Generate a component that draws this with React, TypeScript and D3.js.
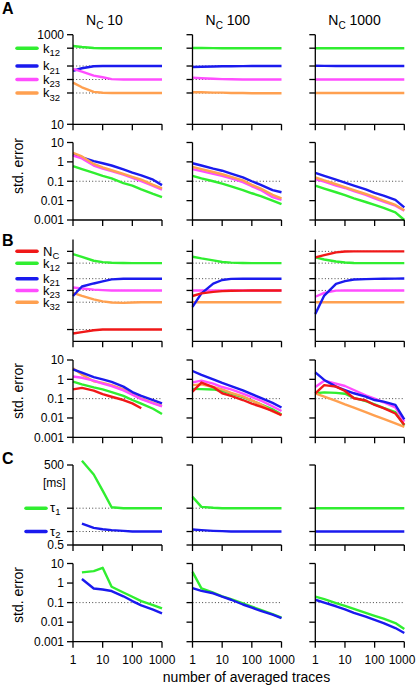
import React from 'react';
import * as d3 from 'd3';

// ---------- data ----------
const ncLabels = ['10', '100', '1000'];
const ncValues = [10, 100, 1000];
const xAll = [1, 2, 5, 10, 20, 50, 100, 200, 500, 1000];
const xFrom2 = [2, 5, 10, 20, 50, 100, 200, 500, 1000];
const xTo200 = [1, 2, 5, 10, 20, 50, 100, 200];
const xTickValues = [1, 10, 100, 1000];
const xTickLabels = ['1', '10', '100', '1000'];
const kNames = ['12', '21', '23', '32'];
const kTrue = [500, 200, 100, 50];
const tauNames = ['1', '2'];
const tauTrue = [12, 1.6];
const seTicks = [10, 1, 0.1, 0.01, 0.001];
const seTickLabels = ['10', '1', '0.1', '0.01', '0.001'];

// Panel A: estimates
const aK12 = [
  [560, 530, 505, 500, 500, 500, 500, 500, 500, 500],
  [505, 503, 501, 500, 500, 499, 498, 497, 497, 497],
  [500, 500, 500, 500, 500, 500, 500, 500, 500, 500],
];
const aK21 = [
  [157, 178, 198, 200, 200, 200, 200, 200, 200, 200],
  [190, 192, 195, 197, 198, 199, 200, 200, 200, 200],
  [202, 201, 200, 200, 200, 200, 200, 200, 200, 200],
];
const aK23 = [
  [172, 150, 122, 112, 102, 100, 100, 100, 100, 100],
  [110, 107, 104, 102, 101, 100, 100, 100, 100, 100],
  [100, 100, 100, 100, 100, 100, 100, 100, 100, 100],
];
const aK32 = [
  [85, 67, 53, 50.5, 50, 50, 50, 50, 50, 50],
  [52, 52, 51, 51, 50, 50, 49.5, 49.5, 49.5, 49.5],
  [50, 50, 50, 50, 50, 50, 50, 50, 50, 50],
];
// Panel A: std. errors
const aSeK12 = [
  [0.6, 0.42, 0.27, 0.19, 0.14, 0.08, 0.06, 0.038, 0.022, 0.015],
  [0.19, 0.14, 0.1, 0.075, 0.055, 0.035, 0.024, 0.017, 0.01, 0.0066],
  [0.06, 0.042, 0.027, 0.019, 0.013, 0.0085, 0.006, 0.0042, 0.0025, 0.001],
];
const aSeK21 = [
  [2.4, 1.7, 1.1, 0.85, 0.65, 0.41, 0.28, 0.2, 0.12, 0.063],
  [0.85, 0.65, 0.45, 0.35, 0.25, 0.16, 0.1, 0.065, 0.035, 0.027],
  [0.27, 0.19, 0.12, 0.085, 0.06, 0.038, 0.025, 0.018, 0.011, 0.0045],
];
const aSeK23 = [
  [2.1, 1.5, 0.65, 0.45, 0.33, 0.22, 0.15, 0.1, 0.058, 0.037],
  [0.42, 0.33, 0.24, 0.19, 0.14, 0.09, 0.055, 0.035, 0.015, 0.011],
  [0.13, 0.095, 0.06, 0.045, 0.031, 0.02, 0.013, 0.009, 0.0055, 0.003],
];
const aSeK32 = [
  [2.9, 1.9, 0.78, 0.52, 0.37, 0.24, 0.17, 0.12, 0.065, 0.043],
  [0.55, 0.42, 0.3, 0.23, 0.17, 0.11, 0.065, 0.042, 0.02, 0.013],
  [0.16, 0.11, 0.07, 0.05, 0.035, 0.022, 0.015, 0.01, 0.006, 0.0032],
];

// Panel B: estimates
const bNc = [
  [7.9, 8.6, 9.6, 10, 10, 10, 10, 10, 10, 10],
  [72, 84, 92, 96, 98, 99, 100, 100, 100, 100],
  [700, 800, 940, 990, 1000, 1000, 1000, 1000, 1000, 1000],
];
const bK12 = [
  [850, 720, 575, 530, 510, 505, 500, 500, 500, 500],
  [730, 660, 590, 535, 515, 505, 500, 500, 500, 500],
  [700, 620, 550, 520, 505, 500, 500, 500, 500, 500],
];
const bK21 = [
  [72, 126, 151, 170, 192, 200, 200, 200, 200, 200],
  [38, 84, 150, 185, 198, 200, 200, 200, 200, 200],
  [25, 74, 148, 173, 190, 195, 198, 200, 201, 202],
];
const bK23 = [
  [119, 112, 105, 102, 100, 100, 100, 100, 100, 100],
  [100, 100, 100, 100, 100, 100, 100, 100, 100, 100],
  [69, 87, 99, 100, 100, 100, 100, 100, 100, 100],
];
const bK32 = [
  [87, 73, 59, 52.5, 49, 48, 49, 50, 50, 50],
  [50, 50, 50, 50, 50, 50, 50, 50, 50, 50],
  [50, 50, 50, 50, 50, 50, 50, 50, 50, 50],
];
// Panel B: std. errors
const bSeNc = [
  [0.3, 0.36, 0.26, 0.17, 0.125, 0.085, 0.057, 0.032],
  [0.23, 0.68, 0.4, 0.19, 0.14, 0.085, 0.055, 0.039, 0.023, 0.014],
  [0.19, 0.5, 0.42, 0.25, 0.105, 0.08, 0.047, 0.032, 0.017, 0.0044],
];
const bSeK12 = [
  [0.76, 0.55, 0.38, 0.3, 0.22, 0.14, 0.085, 0.055, 0.03, 0.016],
  [0.32, 0.31, 0.3, 0.25, 0.18, 0.12, 0.08, 0.05, 0.028, 0.015],
  [0.19, 0.21, 0.2, 0.18, 0.11, 0.075, 0.05, 0.033, 0.02, 0.004],
];
const bSeK21 = [
  [3.3, 2.2, 1.3, 1.0, 0.74, 0.42, 0.22, 0.14, 0.085, 0.057],
  [2.7, 1.7, 1.0, 0.65, 0.45, 0.27, 0.17, 0.11, 0.06, 0.035],
  [2.3, 0.93, 0.42, 0.28, 0.19, 0.126, 0.085, 0.07, 0.048, 0.0085],
];
const bSeK23 = [
  [1.4, 1.2, 0.85, 0.6, 0.45, 0.27, 0.16, 0.095, 0.057, 0.04],
  [0.7, 0.85, 0.6, 0.4, 0.3, 0.18, 0.12, 0.08, 0.04, 0.023],
  [0.4, 0.85, 0.6, 0.45, 0.28, 0.15, 0.1, 0.065, 0.035, 0.0065],
];
const bSeK32 = [
  [3.7, 1.75, 0.8, 0.65, 0.5, 0.3, 0.17, 0.1, 0.06, 0.042],
  [0.5, 0.55, 0.4, 0.3, 0.2, 0.13, 0.08, 0.05, 0.022, 0.014],
  [0.19, 0.128, 0.076, 0.05, 0.034, 0.02, 0.0134, 0.009, 0.0052, 0.0035],
];

// Panel C: estimates [ms]
const cTau1 = [
  [720, 220, 55, 13, 12, 12, 12, 12, 12],
  [32, 13.5, 12.5, 12, 12, 12, 12, 12, 12, 12],
  [12, 12, 12, 12, 12, 12, 12, 12, 12, 12],
];
const cTau2 = [
  [3.2, 2.2, 1.95, 1.8, 1.7, 1.6, 1.6, 1.6, 1.6],
  [1.9, 1.8, 1.7, 1.65, 1.6, 1.6, 1.6, 1.6, 1.6, 1.6],
  [1.6, 1.6, 1.6, 1.6, 1.6, 1.6, 1.6, 1.6, 1.6, 1.6],
];
// Panel C: std. errors
const cSeTau1 = [
  [3.5, 4.1, 6, 0.65, 0.33, 0.2, 0.12, 0.075, 0.05],
  [3.7, 0.53, 0.32, 0.21, 0.15, 0.09, 0.062, 0.043, 0.026, 0.017],
  [0.2, 0.15, 0.095, 0.068, 0.048, 0.03, 0.021, 0.015, 0.009, 0.0045],
];
const cSeTau2 = [
  [1.6, 0.53, 0.47, 0.39, 0.21, 0.12, 0.072, 0.044, 0.028],
  [0.55, 0.4, 0.3, 0.2, 0.14, 0.08, 0.055, 0.038, 0.024, 0.016],
  [0.14, 0.1, 0.065, 0.045, 0.03, 0.019, 0.013, 0.009, 0.005, 0.0028],
];

// ---------- styles / layout ----------
const FONT = '"Liberation Sans", Arial, Helvetica, sans-serif';
const GREEN = '#30ee30';
const BLUE = '#1a1aee';
const MAGENTA = '#ff4dff';
const ORANGE = '#ffa050';
const RED = '#f01818';
const COLS = [73, 192.5, 315.3];
const PW = 89;

type Series = { color: string; data: number[][]; xs: number[][] };
type Panel = {
  top: number;
  bottom: number;
  domain: [number, number];
  ticks: (c: number) => number[];
  labels: { v: number; t: string }[];
  refs: (c: number) => number[];
  series: Series[];
};

const same = (a: number[]) => [a, a, a];

const kTicks = () => [1000, ...kTrue, 10];
const seLabels = seTicks.map((v, i) => ({ v, t: seTickLabels[i] }));

const panels: Panel[] = [
  {
    top: 34.7, bottom: 124.3, domain: [10, 1000],
    ticks: kTicks,
    labels: [{ v: 1000, t: '1000' }, { v: 10, t: '10' }],
    refs: () => kTrue,
    series: [
      { color: GREEN, data: aK12, xs: same(xAll) },
      { color: BLUE, data: aK21, xs: same(xAll) },
      { color: MAGENTA, data: aK23, xs: same(xAll) },
      { color: ORANGE, data: aK32, xs: same(xAll) },
    ],
  },
  {
    top: 142.5, bottom: 220, domain: [0.001, 10],
    ticks: () => seTicks, labels: seLabels, refs: () => [0.1],
    series: [
      { color: GREEN, data: aSeK12, xs: same(xAll) },
      { color: BLUE, data: aSeK21, xs: same(xAll) },
      { color: MAGENTA, data: aSeK23, xs: same(xAll) },
      { color: ORANGE, data: aSeK32, xs: same(xAll) },
    ],
  },
  {
    top: 239.6, bottom: 341.3, domain: [5, 2000],
    ticks: kTicks, labels: [],
    refs: (c) => [ncValues[c], ...kTrue],
    series: [
      { color: GREEN, data: bK12, xs: same(xAll) },
      { color: MAGENTA, data: bK23, xs: same(xAll) },
      { color: ORANGE, data: bK32, xs: same(xAll) },
      { color: BLUE, data: bK21, xs: same(xAll) },
      { color: RED, data: bNc, xs: same(xAll) },
    ],
  },
  {
    top: 360, bottom: 437.3, domain: [0.001, 10],
    ticks: () => seTicks, labels: seLabels, refs: () => [0.1],
    series: [
      { color: GREEN, data: bSeK12, xs: same(xAll) },
      { color: ORANGE, data: bSeK32, xs: same(xAll) },
      { color: MAGENTA, data: bSeK23, xs: same(xAll) },
      { color: BLUE, data: bSeK21, xs: same(xAll) },
      { color: RED, data: bSeNc, xs: [xTo200, xAll, xAll] },
    ],
  },
  {
    top: 465, bottom: 545, domain: [0.5, 500],
    ticks: () => [500, ...tauTrue, 0.5],
    labels: [{ v: 500, t: '500' }, { v: 0.5, t: '0.5' }],
    refs: () => tauTrue,
    series: [
      { color: GREEN, data: cTau1, xs: [xFrom2, xAll, xAll] },
      { color: BLUE, data: cTau2, xs: [xFrom2, xAll, xAll] },
    ],
  },
  {
    top: 563.5, bottom: 641.7, domain: [0.001, 10],
    ticks: () => seTicks, labels: seLabels, refs: () => [0.1],
    series: [
      { color: GREEN, data: cSeTau1, xs: [xFrom2, xAll, xAll] },
      { color: BLUE, data: cSeTau2, xs: [xFrom2, xAll, xAll] },
    ],
  },
];

function PanelView({ p, c, last }: { p: Panel; c: number; last: boolean }) {
  const x0 = COLS[c];
  const x = d3.scaleLog().domain([1, 1000]).range([x0, x0 + PW]);
  const y = d3.scaleLog().domain(p.domain).range([p.bottom, p.top]);
  const line = d3
    .line<[number, number]>()
    .x((d) => x(d[0]))
    .y((d) => y(d[1]));
  return (
    <g>
      {p.refs(c).map((v, i) => (
        <line key={'r' + i} x1={x0} x2={x0 + PW} y1={y(v)} y2={y(v)}
          stroke="#444" strokeWidth={1} strokeDasharray="1 2.2" />
      ))}
      {p.series.map((s, i) => {
        const pts = s.data[c].map((v, j) => [s.xs[c][j], v] as [number, number]);
        return (
          <path key={'s' + i} d={line(pts) || ''} fill="none" stroke={s.color}
            strokeWidth={2.4} strokeLinejoin="round" />
        );
      })}
      <line x1={x0} x2={x0} y1={p.top} y2={p.bottom} stroke="#000" strokeWidth={1.3} />
      <line x1={x0} x2={x0 + PW} y1={p.bottom} y2={p.bottom} stroke="#000" strokeWidth={1.3} />
      {p.ticks(c).map((v, i) => (
        <line key={'yt' + i} x1={x0 - 6} x2={x0} y1={y(v)} y2={y(v)} stroke="#000" strokeWidth={1.3} />
      ))}
      {xTickValues.map((v, i) => (
        <line key={'xt' + i} x1={x(v)} x2={x(v)} y1={p.bottom} y2={p.bottom + 6} stroke="#000" strokeWidth={1.3} />
      ))}
      {c === 0 &&
        p.labels.map((l, i) => (
          <text key={'yl' + i} x={x0 - 9} y={y(l.v)} dy="0.36em" textAnchor="end" fontSize={12}>
            {l.t}
          </text>
        ))}
      {last &&
        xTickValues.map((v, i) => (
          <text key={'xl' + i} x={Math.min(x(v), 402)} y={664} textAnchor="middle" fontSize={12}>
            {xTickLabels[i]}
          </text>
        ))}
    </g>
  );
}

export default function App() {
  const yA = d3.scaleLog().domain(panels[0].domain).range([panels[0].bottom, panels[0].top]);
  const yB = d3.scaleLog().domain(panels[2].domain).range([panels[2].bottom, panels[2].top]);
  const yC = d3.scaleLog().domain(panels[4].domain).range([panels[4].bottom, panels[4].top]);
  const kColors = [GREEN, BLUE, MAGENTA, ORANGE];
  const tauColors = [GREEN, BLUE];
  return (
    <svg width={416} height={687} style={{ position: 'absolute', left: 0, top: 0, background: '#fff' }}
      fontFamily={FONT}>
      <rect width={416} height={687} fill="#fff" />
      {panels.map((p, r) =>
        [0, 1, 2].map((c) => <PanelView key={r + '-' + c} p={p} c={c} last={r === panels.length - 1} />)
      )}
      {/* column titles */}
      {ncLabels.map((t, c) => (
        <text key={'t' + c} x={COLS[c] + 13} y={25} fontSize={14}>
          N<tspan fontSize={10} dy={3.5}>C</tspan>
          <tspan dy={-3.5}> {t}</tspan>
        </text>
      ))}
      {/* panel letters */}
      <text x={2} y={13.5} fontSize={16} fontWeight="bold">A</text>
      <text x={2} y={245.5} fontSize={16} fontWeight="bold">B</text>
      <text x={2} y={463.5} fontSize={16} fontWeight="bold">C</text>
      {/* legend A */}
      {kNames.map((n, i) => (
        <g key={'la' + i}>
          <line x1={17} x2={37} y1={yA(kTrue[i])} y2={yA(kTrue[i])} stroke={kColors[i]} strokeWidth={3.5} strokeLinecap="round" />
          <text x={43} y={yA(kTrue[i]) + 4.4} fontSize={13}>
            k<tspan fontSize={9.5} dy={3.4}>{n}</tspan>
          </text>
        </g>
      ))}
      {/* legend B */}
      <line x1={17} x2={37} y1={yB(1000)} y2={yB(1000)} stroke={RED} strokeWidth={3.5} strokeLinecap="round" />
      <text x={43} y={yB(1000) + 4.4} fontSize={13}>
        N<tspan fontSize={9.5} dy={3}>C</tspan>
      </text>
      {kNames.map((n, i) => (
        <g key={'lb' + i}>
          <line x1={17} x2={37} y1={yB(kTrue[i])} y2={yB(kTrue[i])} stroke={kColors[i]} strokeWidth={3.5} strokeLinecap="round" />
          <text x={43} y={yB(kTrue[i]) + 4.4} fontSize={13}>
            k<tspan fontSize={9.5} dy={3.4}>{n}</tspan>
          </text>
        </g>
      ))}
      {/* legend C */}
      <text x={43} y={487} fontSize={12}>[ms]</text>
      {tauNames.map((n, i) => (
        <g key={'lc' + i}>
          <line x1={26} x2={46} y1={yC(tauTrue[i])} y2={yC(tauTrue[i])} stroke={tauColors[i]} strokeWidth={3.5} strokeLinecap="round" />
          <text x={50} y={yC(tauTrue[i]) + 4} fontSize={13}>
            τ<tspan fontSize={9.5} dy={2.8}>{n}</tspan>
          </text>
        </g>
      ))}
      {/* std. error labels */}
      {[166, 391, 595].map((cy, i) => (
        <text key={'se' + i} transform={`translate(23,${cy}) rotate(-90)`} textAnchor="middle" fontSize={14}>
          std. error
        </text>
      ))}
      <text x={246.5} y={682} textAnchor="middle" fontSize={14}>number of averaged traces</text>
    </svg>
  );
}
